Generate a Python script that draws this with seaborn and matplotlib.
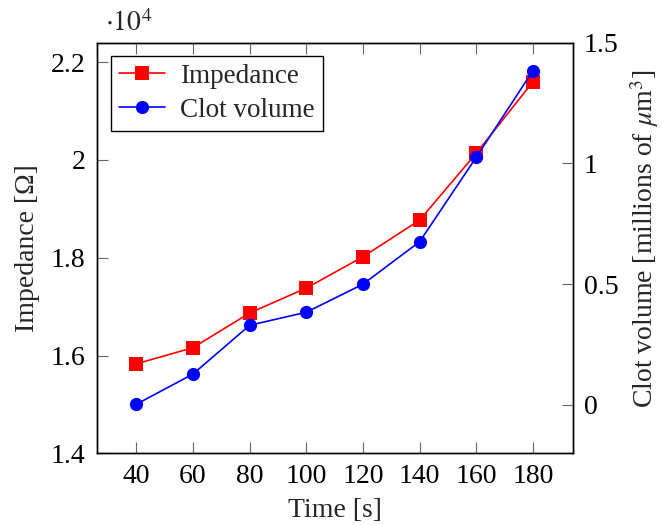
import matplotlib
matplotlib.use("Agg")
import matplotlib.pyplot as plt
import seaborn as sns
import pandas as pd
from matplotlib.ticker import FuncFormatter, FixedLocator

# ---- data ----
time_s = [40, 60, 80, 100, 120, 140, 160, 180]
impedance_ohm = [15830, 16160, 16870, 17380, 18020, 18770, 20140, 21600]
clot_volume_mum3 = [0.003, 0.128, 0.330, 0.384, 0.500, 0.676, 1.026, 1.384]

x_ticks = [40, 60, 80, 100, 120, 140, 160, 180]
left_ticks = [14000, 16000, 18000, 20000, 22000]
right_ticks = [0, 0.5, 1, 1.5]

df = pd.DataFrame({"time": time_s, "imp": impedance_ohm, "clot": clot_volume_mum3})

sns.set_theme(style="ticks")
plt.rcParams["font.family"] = ["Liberation Serif", "DejaVu Serif"]
plt.rcParams["mathtext.fontset"] = "stix"
FS = 20

fig = plt.figure(figsize=(6.62, 5.25), dpi=100)
ax = fig.add_axes([0.146, 0.1366, 0.719, 0.7821])
ax2 = ax.twinx()

sns.lineplot(data=df, x="time", y="imp", ax=ax, color="#ff0000", marker="s",
             markersize=9.5, markeredgewidth=0, linewidth=1.2, label="Impedance", legend=False)
sns.lineplot(data=df, x="time", y="clot", ax=ax2, color="#0000ff", marker="o",
             markersize=9.5, markeredgewidth=0, linewidth=1.2, label="Clot volume", legend=False)

ax.set_xlim(26, 194)
ax.set_ylim(14000, 22400)
ax2.set_ylim(-0.2, 1.5)

ax.xaxis.set_major_locator(FixedLocator(x_ticks))
ax.yaxis.set_major_locator(FixedLocator(left_ticks))
ax2.yaxis.set_major_locator(FixedLocator(right_ticks))
ax.yaxis.set_major_formatter(FuncFormatter(lambda v, p: f"{v/1e4:g}"))
ax2.yaxis.set_major_formatter(FuncFormatter(lambda v, p: f"{v:g}"))

for a in (ax, ax2):
    for s in a.spines.values():
        s.set_linewidth(1.0)
        s.set_color("black")
    a.tick_params(direction="in", length=8, width=0.8, color="#666666",
                  labelsize=FS, labelcolor="black", pad=8)
ax.tick_params(axis="x", top=True)
ax.tick_params(axis="y", left=True, right=False)
ax2.tick_params(axis="y", left=False, right=True)

ax.set_xlabel("Time [s]", fontsize=FS, labelpad=6)
ax.set_ylabel("Impedance [Ω]", fontsize=FS, labelpad=8)
ax2.set_ylabel(r"Clot volume [millions of $\mu$m$^3$]", fontsize=FS, labelpad=7)
ax2.yaxis.label.set_y(0.524)

fig.text(0.158, 0.955, r"$\cdot 10^4$", fontsize=FS, ha="left", va="center")

h1, l1 = ax.get_legend_handles_labels()
h2, l2 = ax2.get_legend_handles_labels()
leg = ax2.legend(h1 + h2, l1 + l2, loc="upper left", bbox_to_anchor=(0.03, 0.968),
                 borderaxespad=0, fontsize=19.5, frameon=True, fancybox=False,
                 edgecolor="black", framealpha=1, handlelength=1.7,
                 borderpad=0.3, labelspacing=0.32, handletextpad=0.55)
leg.get_frame().set_linewidth(1.0)

fig.savefig("out.png", dpi=100)
